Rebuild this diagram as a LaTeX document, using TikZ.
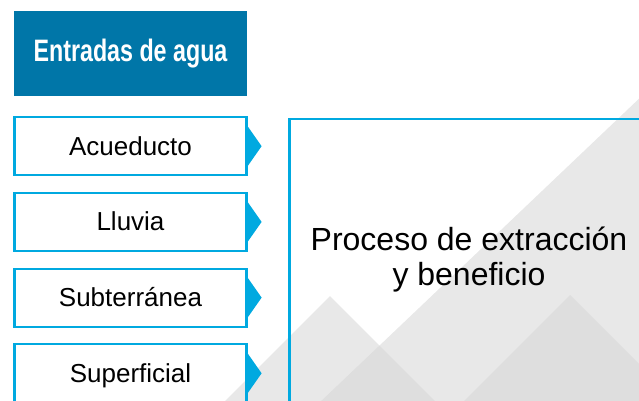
\documentclass[tikz,border=0pt]{standalone}
\usepackage{fontspec}
\setmainfont{Liberation Sans}
\newfontfamily\titlefont[FakeStretch=0.75]{Liberation Sans}
\usetikzlibrary{positioning}
\definecolor{titleblue}{RGB}{0,118,168}
\definecolor{linecyan}{RGB}{0,169,224}
\definecolor{hill}{RGB}{232,232,232}
\definecolor{hilldark}{RGB}{222,222,222}
\begin{document}
\begin{tikzpicture}[x=1pt, y=-1pt, node distance=75.7pt,
        title/.style = {fill=titleblue, text=white, minimum width=233pt, minimum height=85pt, font=\titlefont\bfseries\fontsize{31}{36}\selectfont},
        inbox/.style = {draw=linecyan, line width=2.2pt, minimum width=232pt, minimum height=58pt, text height=18pt, text depth=0pt, font=\fontsize{26}{30}\selectfont},
        procbox/.style = {draw=linecyan, line width=2.2pt, outer sep=0pt, anchor=north west, minimum width=400pt, minimum height=320pt},
        bigtext/.style = {align=center, anchor=base, font=\fontsize{32}{35}\selectfont},
        pointer/.style = {fill=linecyan}]
            \useasboundingbox (0,0) rectangle (639,400);
            \clip (0,0) rectangle (639,400);
            \fill[hill] (645,93) -- (317,405) -- (645,405) -- cycle;
            \fill[hill] (221,405) -- (330,296) -- (439,405) -- cycle;
            \begin{scope}
                \clip (645,93) -- (317,405) -- (645,405) -- cycle;
                \fill[hilldark] (221,405) -- (330,296) -- (439,405) -- cycle;
            \end{scope}
            \fill[hilldark] (460,405) -- (570,295) -- (680,405) -- cycle;
            \node[title] (entradas) at (130.5,53.5) {Entradas de agua};
            \node[inbox] (acueducto) at (130.5,146.2) {Acueducto};
            \node[inbox] (lluvia) [below of=acueducto] {Lluvia};
            \node[inbox] (subterranea) [below of=lluvia] {Subterránea};
            \node[inbox] (superficial) [below of=subterranea] {Superficial};
            \node[procbox] (proceso) at (289.5,119.2) {};
            \node[bigtext] (procesotexto) at (469,285) {Proceso de extracción\\y beneficio};
            \foreach \n in {acueducto,lluvia,subterranea,superficial}
                \fill[pointer] (\n.east) ++(0pt,20pt) -- ++(14pt,-20pt) -- ++(-14pt,-20pt) -- cycle;
        \end{tikzpicture}
\end{document}
